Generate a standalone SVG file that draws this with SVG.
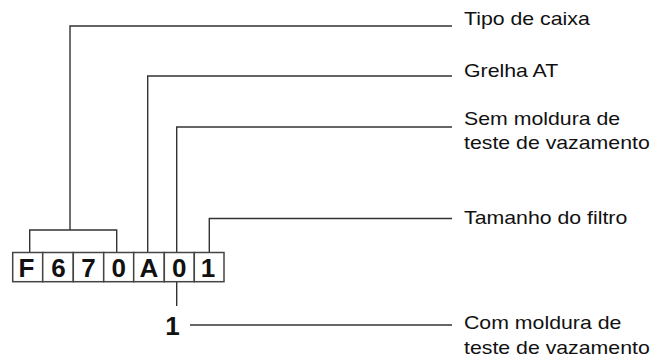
<svg xmlns="http://www.w3.org/2000/svg" width="669" height="361" viewBox="0 0 669 361">
<style>
.ln{fill:none;stroke:#333;stroke-width:1.4}
.bx{fill:#fff;stroke:#444;stroke-width:1.5}
.lb{font-family:"Liberation Sans",Arial,sans-serif;font-size:18.2px;fill:#111}
.dg{font-family:"Liberation Sans",Arial,sans-serif;font-size:26px;font-weight:bold;fill:#111;text-anchor:middle}
</style>
<rect width="669" height="361" fill="#fff"/>
<g id="connectors">
<path class="ln" d="M29.7,252.5 V230 H116.7 V252.5 M70,230 V26 H452"/>
<path class="ln" d="M147.7,252.5 V76 H452"/>
<path class="ln" d="M176.7,252.5 V127 H452"/>
<path class="ln" d="M209.3,252.5 V218.5 H452"/>
<path class="ln" d="M176.7,282 V306"/>
<path class="ln" d="M190,325 H452"/>
</g>
<g id="code">
<rect class="bx" x="12.7" y="252.5" width="30" height="29.2"/>
<rect class="bx" x="42.7" y="252.5" width="30.6" height="29.2"/>
<rect class="bx" x="73.3" y="252.5" width="30.4" height="29.2"/>
<rect class="bx" x="103.7" y="252.5" width="30" height="29.2"/>
<rect class="bx" x="133.7" y="252.5" width="30.6" height="29.2"/>
<rect class="bx" x="164.3" y="252.5" width="30" height="29.2"/>
<rect class="bx" x="194.3" y="252.5" width="29.7" height="29.2"/>
<text class="dg" x="26.5" y="277.3">F</text>
<text class="dg" x="58.5" y="277.3">6</text>
<text class="dg" x="88.5" y="277.3">7</text>
<text class="dg" x="118.7" y="277.3">0</text>
<text class="dg" x="149" y="277.3">A</text>
<text class="dg" x="179.3" y="277.3">0</text>
<text class="dg" x="208" y="277.3">1</text>
</g>
<g id="alt-one">
<text class="dg" x="172.5" y="335">1</text>
</g>
<g id="label-tipo">
<text class="lb" transform="translate(464,24.5) scale(1.17,1)">Tipo de caixa</text>
</g>
<g id="label-grelha">
<text class="lb" transform="translate(464,77) scale(1.17,1)">Grelha AT</text>
</g>
<g id="label-sem">
<text class="lb" transform="translate(464,124.5) scale(1.17,1)">Sem moldura de</text>
<text class="lb" transform="translate(464,149) scale(1.17,1)">teste de vazamento</text>
</g>
<g id="label-tamanho">
<text class="lb" transform="translate(464,224) scale(1.17,1)">Tamanho do filtro</text>
</g>
<g id="label-com">
<text class="lb" transform="translate(464,328.5) scale(1.17,1)">Com moldura de</text>
<text class="lb" transform="translate(464,353.5) scale(1.17,1)">teste de vazamento</text>
</g>
</svg>
